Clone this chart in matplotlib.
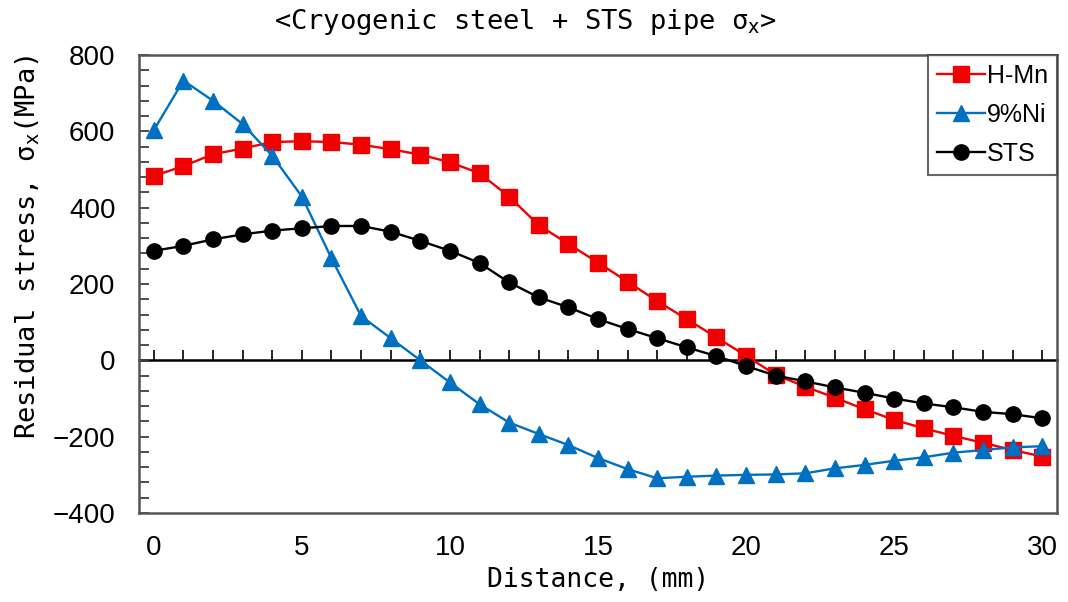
import numpy as np
import matplotlib
matplotlib.use("Agg")
import matplotlib.pyplot as plt
from matplotlib.ticker import MultipleLocator

distance = list(range(0, 31))
h_mn = [483, 509, 540, 555, 572, 574, 572, 565, 553, 539, 519, 490, 429, 354, 305,
        256, 206, 155, 108, 60, 12, -38, -69, -98, -128, -156, -178, -198, -216, -235, -252]
ni9 = [603, 733, 680, 619, 536, 429, 267, 116, 58, 0, -58, -115, -163, -193, -222,
       -256, -285, -309, -305, -302, -300, -299, -296, -283, -274, -263, -254, -242, -235, -228, -225]
sts = [287, 300, 317, 330, 340, 346, 352, 352, 337, 313, 287, 255, 204, 165, 139,
       108, 82, 58, 34, 11, -15, -40, -55, -71, -85, -100, -113, -123, -135, -141, -152]
series_labels = ["H-Mn", "9%Ni", "STS"]
x_ticks = [0, 5, 10, 15, 20, 25, 30]
y_ticks = [-400, -200, 0, 200, 400, 600, 800]

fig = plt.figure(figsize=(10.68, 6.02), dpi=100)
ax = fig.add_axes([139/1068, 1-513/602, (1057-139)/1068, (513-55)/602])

ax.plot(distance, h_mn, color="#F00000", marker="s", markersize=11, lw=1.7,
        label=series_labels[0], zorder=3)
ax.plot(distance, ni9, color="#0070C0", marker="^", markersize=12, lw=1.7,
        label=series_labels[1], zorder=3)
ax.plot(distance, sts, color="black", marker="o", markersize=11, lw=1.7,
        label=series_labels[2], zorder=4)

ax.set_xlim(-0.5, 30.5)
ax.set_ylim(-400, 800)
ax.set_xticks(x_ticks)
ax.set_yticks(y_ticks)
ax.yaxis.set_minor_locator(MultipleLocator(40))
ax.tick_params(axis="x", length=0, pad=16, labelsize=20)
ax.tick_params(axis="y", which="both", direction="in", length=7, width=1.3,
               color="#404040", labelsize=20, pad=17)
for lab in ax.get_xticklabels() + ax.get_yticklabels():
    lab.set_family("Liberation Sans")
for sp in ax.spines.values():
    sp.set_color("#555555")
    sp.set_linewidth(1.8)

# zero line with upward ticks every 1 mm
sec = ax.secondary_xaxis(400/1200)
sec.xaxis.set_major_locator(MultipleLocator(1))
sec.tick_params(axis="x", direction="in", length=7, width=1.2, color="black",
                labelbottom=False, labeltop=False)
sec.spines["bottom"].set_visible(True)
sec.spines["bottom"].set_linewidth(1.8)
sec.spines["bottom"].set_color("black")

leg = ax.legend(loc="upper right", bbox_to_anchor=(1, 1), borderaxespad=0,
                frameon=True, fancybox=False, handlelength=1.9, handletextpad=0.1,
                labelspacing=0.6, borderpad=0.35,
                prop={"family": ["Liberation Sans Narrow", "Liberation Sans"], "size": 18})
leg.get_frame().set_edgecolor("#404040")
leg.get_frame().set_linewidth(1.5)

fig.text(525/1068, 1-22/602, r"<Cryogenic steel + STS pipe σ$_\mathrm{x}$>", ha="center",
         va="center", fontsize=19.5, family="DejaVu Sans Mono")
fig.text(28/1068, 1-247/602, r"Residual stress, σ$_\mathrm{x}$(MPa)", ha="center",
         va="center", rotation=90, fontsize=19.5, family="DejaVu Sans Mono")
fig.text(598/1068, 1-580/602, "Distance, (mm)", ha="center", va="center",
         fontsize=19, family="DejaVu Sans Mono")

fig.savefig("out.png", dpi=100)
